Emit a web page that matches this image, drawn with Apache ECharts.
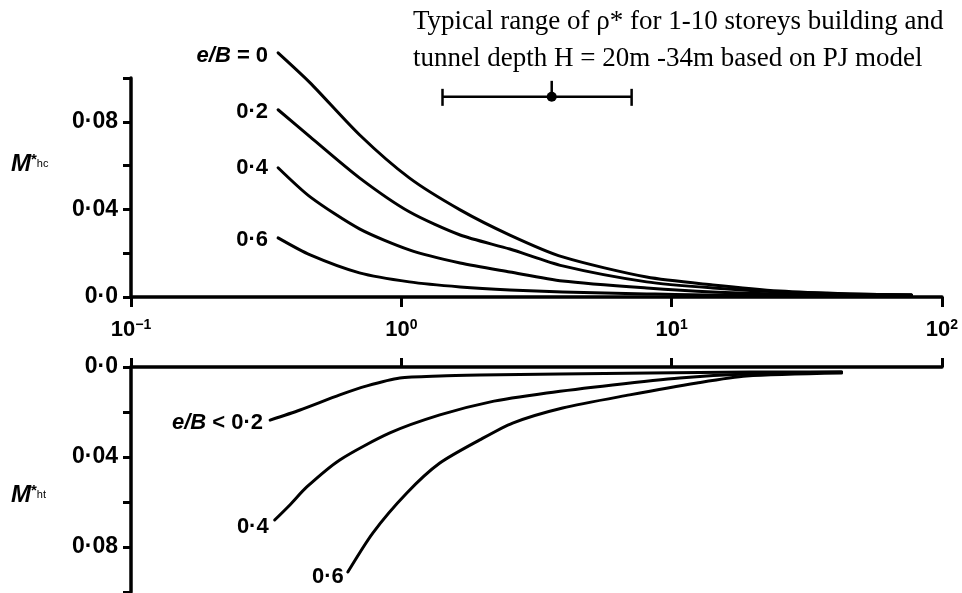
<!DOCTYPE html>
<html><head><meta charset="utf-8">
<script src="https://cdn.jsdelivr.net/npm/echarts@6/dist/echarts.min.js"></script>
<style>html,body{margin:0;padding:0;background:#fff}#c{width:962px;height:593px}</style>
</head><body><div id="c"></div>
<script>
// ---- data ----
const xTickLabels = ['10{s|\u22121}', '10{s|0}', '10{s|1}', '10{s|2}'];
const yTickLabels = { '0': '0\u00b70', '0.04': '0\u00b704', '0.08': '0\u00b708' };

// top panel: M*hc vs rho* (log)
const hcX  = [0.35, 0.46, 0.70, 1.07, 1.65, 2.52, 3.95, 8.08, 14.2, 25.1, 45.5, 77.1];
const hcY0 = [0.1115, 0.0978, 0.0741, 0.0544, 0.0398, 0.0283, 0.0183, 0.0091, 0.0055, 0.0027, 0.0014, 0.0009];
const hcY2 = [0.0855, 0.0731, 0.0544, 0.0389, 0.0283, 0.0219, 0.0142, 0.0069, 0.0041, 0.0023, 0.0014, 0.0009];
const hcY4 = [0.0590, 0.0457, 0.0311, 0.0215, 0.0155, 0.0114, 0.0073, 0.0041, 0.0023, 0.0014, 0.0009, 0.0009];
const hcY6 = [0.0270, 0.0192, 0.0110, 0.0069, 0.0046, 0.0032, 0.0023, 0.0014, 0.0009, 0.0009, 0.0007, 0.0007];
const hcLabels = ['{i|e/B} = 0', '0\u00b72', '0\u00b74', '0\u00b76'];

// bottom panel: M*ht vs rho* (log)
const htX2 = [0.327, 0.422, 0.592, 0.746, 0.987, 1.388, 1.95, 3.85, 8.29, 19.4, 42.5];
const htY2 = [0.0236, 0.0191, 0.0124, 0.0084, 0.0049, 0.0040, 0.0036, 0.0031, 0.0027, 0.0022, 0.0022];
const htX4 = [0.340, 0.387, 0.447, 0.592, 0.907, 1.388, 2.12, 3.45, 6.05, 10.7, 18.9, 42.5];
const htY4 = [0.0680, 0.0613, 0.0533, 0.0413, 0.0293, 0.0213, 0.0156, 0.0116, 0.0080, 0.0049, 0.0031, 0.0022];
const htX6 = [0.634, 0.784, 1.048, 1.388, 1.95, 2.58, 3.95, 6.99, 12.4, 18.9, 42.5];
const htY6 = [0.0911, 0.0738, 0.0560, 0.0427, 0.0324, 0.0249, 0.0182, 0.0124, 0.0071, 0.0040, 0.0027];
const htLabels = ['{i|e/B} < 0\u00b72', '0\u00b74', '0\u00b76'];

// typical range of rho* : [low, high, centre, plotted height]
const rangeLow = 1.42, rangeHigh = 7.11, rangeMid = 3.60, rangeLevel = 0.0914;
const noteLines = ['Typical range of \u03c1* for 1-10 storeys building and', 'tunnel depth H = 20m -34m based on PJ model'];

// ---- styling helpers ----
const SANS = "'Liberation Sans', Arial, sans-serif";
const SERIF = "'Liberation Serif', 'Times New Roman', serif";
const labelRich = {
  i: { fontStyle: 'italic', fontWeight: 'bold', fontSize: 22, fontFamily: SANS, color: '#000' }
};

function mkSeries(xs, ys, lab, xi, yi, lblOpt) {
  const data = xs.map((x, k) => {
    if (k === 0) {
      return {
        value: [x, ys[k]],
        label: {
          show: true, position: 'left', distance: lblOpt.d, offset: lblOpt.off,
          formatter: lab, fontFamily: SANS, fontWeight: 'bold', fontSize: 22, color: '#000', rich: labelRich
        }
      };
    }
    return [x, ys[k]];
  });
  return {
    type: 'line', xAxisIndex: xi, yAxisIndex: yi, data,
    smooth: 0.25, clip: false,
    symbol: 'circle', symbolSize: 0, showSymbol: true,
    lineStyle: { color: '#000', width: 3, join: 'round', cap: 'round' }, itemStyle: { color: '#000' },
    silent: true, z: 3
  };
}

function xAxisCfg(grid, pos, showLabel, tickLen) {
  return {
    type: 'log', logBase: 10, min: 0.1, max: 100, gridIndex: grid, position: pos,
    axisLine: { show: true, onZero: false, lineStyle: { color: '#000', width: 3.5 } },
    axisTick: { show: true, length: tickLen, lineStyle: { color: '#000', width: 3 } },
    minorTick: { show: false }, splitLine: { show: false },
    axisLabel: {
      show: showLabel, margin: 21, color: '#000', fontFamily: SANS, fontWeight: 'bold', fontSize: 22,
      formatter: v => xTickLabels[Math.round(Math.log10(v)) + 1],
      rich: { s: { fontSize: 14, fontFamily: SANS, fontWeight: 'bold', verticalAlign: 'top', padding: [0, 0, 10, 0], color: '#000' } }
    }
  };
}

function yAxisCfg(grid, inverse) {
  return {
    type: 'value', min: 0, max: 0.1, interval: 0.02, gridIndex: grid, inverse,
    axisLine: { show: true, onZero: false, lineStyle: { color: '#000', width: 3.5 } },
    axisTick: { show: true, length: 8, lineStyle: { color: '#000', width: 3 } },
    splitLine: { show: false },
    axisLabel: {
      margin: 13, color: '#000', fontFamily: SANS, fontWeight: 'bold', fontSize: 23,
      formatter: v => { const k = String(Math.round(v * 100) / 100); return yTickLabels[k] || ''; }
    }
  };
}

const titleRich = {
  m: { fontFamily: SANS, fontStyle: 'italic', fontWeight: 'bold', fontSize: 24, fill: '#000', verticalAlign: 'bottom' },
  s: { fontFamily: SANS, fontWeight: 'bold', fontSize: 15, fill: '#000', verticalAlign: 'top' },
  b: { fontFamily: SANS, fontSize: 11, fill: '#000', verticalAlign: 'middle' }
};

const chart = echarts.init(document.getElementById('c'), null, { renderer: 'canvas' });
const option = {
  animation: false,
  backgroundColor: '#fff',
  grid: [
    { left: 131, right: 20, top: 78, height: 219 },
    { left: 131, right: 20, top: 367, height: 225 }
  ],
  xAxis: [xAxisCfg(0, 'bottom', true, 10), xAxisCfg(1, 'top', false, 9)],
  yAxis: [yAxisCfg(0, false), yAxisCfg(1, true)],
  graphic: [
    { type: 'text', left: 413, top: 3, style: { text: noteLines.join('\n'), font: '27px ' + SERIF, lineHeight: 37, fill: '#000' } },
    { type: 'text', left: 11, top: 152, style: { text: '{m|M}{s|*}{b|hc}', rich: titleRich } },
    { type: 'text', left: 11, top: 483, style: { text: '{m|M}{s|*}{b|ht}', rich: titleRich } }
  ],
  series: [
    mkSeries(hcX, hcY0, hcLabels[0], 0, 0, { d: 10, off: [0, 3] }),
    mkSeries(hcX, hcY2, hcLabels[1], 0, 0, { d: 10, off: [0, 2] }),
    mkSeries(hcX, hcY4, hcLabels[2], 0, 0, { d: 10, off: [0, 0] }),
    mkSeries(hcX, hcY6, hcLabels[3], 0, 0, { d: 10, off: [0, 2] }),
    mkSeries(htX2, htY2, htLabels[0], 1, 1, { d: 7, off: [0, 3] }),
    mkSeries(htX4, htY4, htLabels[1], 1, 1, { d: 6, off: [0, 7] }),
    mkSeries(htX6, htY6, htLabels[2], 1, 1, { d: 4, off: [0, 5] }),
    {
      type: 'custom', xAxisIndex: 0, yAxisIndex: 0, silent: true, z: 4,
      data: [[rangeLow, rangeHigh, rangeMid, rangeLevel]],
      renderItem: (params, api) => {
        const y = api.value(3);
        const p1 = api.coord([api.value(0), y]);
        const p2 = api.coord([api.value(1), y]);
        const pc = api.coord([api.value(2), y]);
        const st = { stroke: '#000', lineWidth: 2.5 };
        return { type: 'group', children: [
          { type: 'line', shape: { x1: p1[0], y1: p1[1], x2: p2[0], y2: p2[1] }, style: st },
          { type: 'line', shape: { x1: p1[0], y1: p1[1] - 8, x2: p1[0], y2: p1[1] + 9 }, style: st },
          { type: 'line', shape: { x1: p2[0], y1: p2[1] - 8, x2: p2[0], y2: p2[1] + 9 }, style: st },
          { type: 'line', shape: { x1: pc[0], y1: pc[1] - 16, x2: pc[0], y2: pc[1] }, style: st },
          { type: 'circle', shape: { cx: pc[0], cy: pc[1], r: 5 }, style: { fill: '#000' } }
        ] };
      }
    }
  ]
};
chart.setOption(option);
</script>
</body></html>
